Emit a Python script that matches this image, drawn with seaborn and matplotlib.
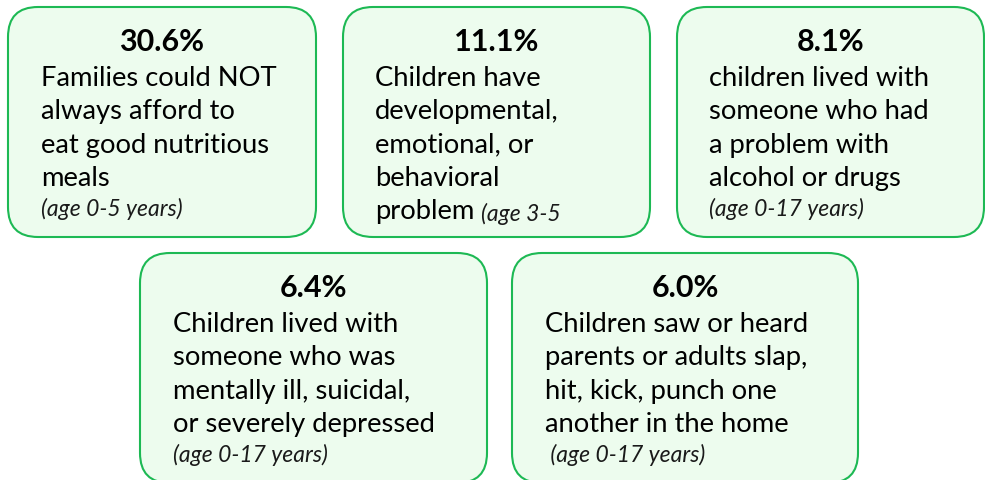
import matplotlib
matplotlib.use("Agg")
import matplotlib.pyplot as plt
from matplotlib.patches import FancyBboxPatch
import seaborn as sns

# ---- data ----
percentages = ["30.6%", "11.1%", "8.1%", "6.4%", "6.0%"]
descriptions = [
    ["Families could NOT", "always afford to", "eat good nutritious", "meals"],
    ["Children have", "developmental,", "emotional, or", "behavioral", "problem"],
    ["children lived with", "someone who had", "a problem with", "alcohol or drugs"],
    ["Children lived with", "someone who was", "mentally ill, suicidal,", "or severely depressed"],
    ["Children saw or heard", "parents or adults slap,", "hit, kick, punch one", "another in the home"],
]
age_notes = ["(age 0-5 years)", "(age 3-5", "(age 0-17 years)", "(age 0-17 years)", " (age 0-17 years)"]

# ---- layout (pixels) ----
boxes = [  # x0, y0, x1, y1
    (8, 7, 316, 237),
    (343, 7, 650, 237),
    (677, 7, 984, 237),
    (140, 253, 487, 483),
    (512, 253, 858, 483),
]
text_x = [41, 375, 709, 173, 545]

sns.set_theme(style="white")
plt.rcParams["font.family"] = ["Lato", "DejaVu Sans"]

fig = plt.figure(figsize=(9.85, 4.8), dpi=100)
ax = fig.add_axes([0, 0, 1, 1])
ax.set_xlim(0, 985)
ax.set_ylim(480, 0)
ax.axis("off")

edge = "#1db954"
fill = "#edfcee"
body_fs = 19.7
title_fs = 22
note_fs = 16.5
line_h = 33.5

for i, (x0, y0, x1, y1) in enumerate(boxes):
    p = FancyBboxPatch((x0, y0), x1 - x0, y1 - y0,
                       boxstyle="round,pad=0,rounding_size=30",
                       facecolor=fill, edgecolor=edge, linewidth=1.5,
                       clip_on=False)
    ax.add_patch(p)
    cx = (x0 + x1) / 2
    ax.text(cx, y0 + 35, percentages[i], ha="center", va="center",
            fontsize=title_fs, fontweight="bold", color="black")
    lines = descriptions[i]
    ystart = y0 + 71
    for j, ln in enumerate(lines):
        ax.text(text_x[i], ystart + j * line_h, ln, ha="left", va="center",
                fontsize=body_fs, color="black")
    if i == 1:
        # note follows last line on same row
        last = ax.text(text_x[i], ystart + (len(lines) - 1) * line_h, lines[-1] + " ",
                       alpha=0, ha="left", va="center", fontsize=body_fs)
        fig.canvas.draw()
        bb = last.get_window_extent().transformed(ax.transData.inverted())
        ax.text(bb.x1, ystart + (len(lines) - 1) * line_h + 2, age_notes[i],
                ha="left", va="center", fontsize=note_fs, style="italic", color="#1a1a1a")
    else:
        ax.text(text_x[i], ystart + len(lines) * line_h - 3, age_notes[i], ha="left",
                va="center", fontsize=note_fs, style="italic", color="#1a1a1a")

fig.savefig("out.png", dpi=100)
